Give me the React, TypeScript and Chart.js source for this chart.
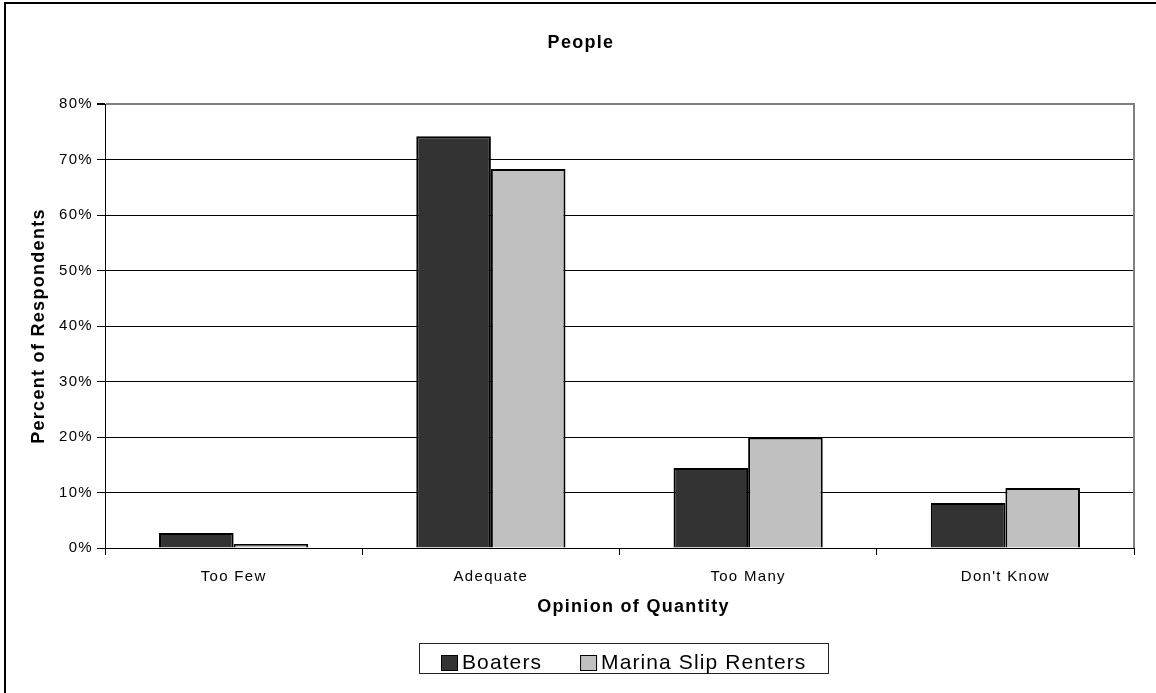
import React, { useEffect, useRef } from "react";
import { Chart, registerables } from "chart.js";

Chart.register(...registerables);

const categories = ["Too Few", "Adequate", "Too Many", "Don't Know"];
const boaters = [2.7, 74.2, 14.4, 8.1];
const slipRenters = [0.7, 68.3, 19.9, 10.8];
const seriesLabels = ["Boaters", "Marina Slip Renters"];
const yTicks = [0, 10, 20, 30, 40, 50, 60, 70, 80];
const xAxisTitle = "Opinion of Quantity";

const FONT = '"Liberation Sans", Arial, sans-serif';

const spacingPlugin = {
  id: "spacing",
  beforeUpdate(chart: any) {
    chart.ctx.letterSpacing = "1.3px";
  },
  beforeLayout(chart: any) {
    chart.ctx.letterSpacing = "1.3px";
  },
  beforeDraw(chart: any) {
    chart.ctx.letterSpacing = "1.3px";
  },
};

const framePlugin = {
  id: "frame",
  beforeDraw(chart: any) {
    const ctx = chart.ctx;
    ctx.save();
    ctx.fillStyle = "#fff";
    ctx.fillRect(0, 0, chart.width, chart.height);
    ctx.fillStyle = "#000";
    ctx.fillRect(4, 2, chart.width - 4, 2);
    ctx.fillRect(4, 2, 2, chart.height - 2);
    ctx.restore();
  },
  afterDraw(chart: any) {
    const ctx = chart.ctx;
    const a = chart.chartArea;
    ctx.save();
    ctx.strokeStyle = "#808080";
    ctx.lineWidth = 2;
    ctx.beginPath();
    ctx.moveTo(a.right, a.top - 1);
    ctx.lineTo(a.right, a.bottom);
    ctx.stroke();
    ctx.restore();

    const xs = chart.scales.x;

    // x axis title (Excel centres it slightly right of the plot centre)
    ctx.save();
    ctx.letterSpacing = "1.3px";
    ctx.font = `bold 18px ${FONT}`;
    ctx.fillStyle = "#000";
    ctx.textAlign = "center";
    ctx.textBaseline = "middle";
    ctx.fillText(xAxisTitle, (a.left + a.right) / 2 + 14, xs.bottom - 36);
    ctx.restore();

    // legend
    ctx.save();
    ctx.letterSpacing = "1.1px";
    ctx.font = `21px ${FONT}`;
    const items = chart.data.datasets.map((d: any) => ({
      label: d.label,
      color: d.backgroundColor,
    }));
    const sw = 17;
    const gapT = 4;
    const gapItems = 38;
    const pad = 22;
    const widths = items.map((i: any) => ctx.measureText(i.label).width);
    let total = pad * 2 + gapItems * (items.length - 1);
    widths.forEach((w: number) => (total += sw + gapT + w));
    const cx = (a.left + a.right) / 2 + 4;
    const left = Math.round(cx - total / 2);
    const top = Math.round(xs.bottom);
    const h = 30;
    ctx.strokeStyle = "#222";
    ctx.lineWidth = 1;
    ctx.strokeRect(left + 0.5, top + 0.5, Math.round(total), h);
    let x = left + pad;
    const my = top + 20;
    items.forEach((it: any, i: number) => {
      ctx.fillStyle = it.color;
      ctx.fillRect(x, my - 8, sw, 16);
      ctx.strokeStyle = "#000";
      ctx.strokeRect(x + 0.5, my - 7.5, sw - 1, 15);
      ctx.fillStyle = "#000";
      ctx.textBaseline = "middle";
      ctx.textAlign = "left";
      ctx.fillText(it.label, x + sw + gapT, my);
      x += sw + gapT + widths[i] + gapItems;
    });
    ctx.restore();
  },
};

export default function App() {
  const ref = useRef<HTMLCanvasElement | null>(null);

  useEffect(() => {
    if (!ref.current) return;
    const chart = new Chart(ref.current, {
      type: "bar",
      data: {
        labels: categories,
        datasets: [
          {
            label: seriesLabels[0],
            data: boaters,
            backgroundColor: "#333333",
            borderColor: "#000",
            borderWidth: 2,
            categoryPercentage: 0.58,
            barPercentage: 1.0,
          },
          {
            label: seriesLabels[1],
            data: slipRenters,
            backgroundColor: "#C0C0C0",
            borderColor: "#000",
            borderWidth: 2,
            categoryPercentage: 0.58,
            barPercentage: 1.0,
          },
        ],
      },
      options: {
        responsive: false,
        animation: false,
        devicePixelRatio: 1,
        layout: { padding: { left: 28, right: 22, top: 0, bottom: 50 } },
        plugins: {
          legend: { display: false },
          tooltip: { enabled: false },
          title: {
            display: true,
            text: "People",
            color: "#000",
            font: { family: FONT, size: 18, weight: "bold", lineHeight: 1.2 },
            padding: { top: 32, bottom: 50.4 },
          },
        },
        scales: {
          x: {
            grid: {
              drawOnChartArea: false,
              drawTicks: true,
              tickLength: 7,
              tickColor: "#000",
              offset: true,
            },
            border: { color: "#000", width: 1 },
            ticks: {
              color: "#000",
              font: { family: FONT, size: 15, lineHeight: 1.2 },
              padding: 13,
              maxRotation: 0,
              autoSkip: false,
            },
            title: { display: false },
            afterFit: (s: any) => {
              s.height = 95;
            },
          },
          y: {
            min: 0,
            max: 80,
            afterBuildTicks: (s: any) => {
              s.ticks = yTicks.map((v) => ({ value: v }));
            },
            grid: {
              color: (c: any) => (c.tick && c.tick.value === 80 ? "#808080" : "#000"),
              lineWidth: (c: any) => (c.tick && c.tick.value === 80 ? 2 : 1),
              drawTicks: true,
              tickLength: 8,
              tickColor: "#000",
            },
            border: { color: "#000", width: 1 },
            ticks: {
              color: "#000",
              font: { family: FONT, size: 15, lineHeight: 1.2 },
              padding: 4,
              callback: (v: any) => `${v}%`,
            },
            title: {
              display: true,
              text: "Percent of Respondents",
              color: "#000",
              font: { family: FONT, size: 18, weight: "bold", lineHeight: 1.2 },
              padding: { top: 0, bottom: 0 },
            },
            afterFit: (s: any) => {
              s.width = 77;
            },
          },
        },
      },
      plugins: [spacingPlugin, framePlugin],
    });
    return () => chart.destroy();
  }, []);

  return (
    <div style={{ position: "fixed", left: 0, top: 0, width: 1156, height: 693, background: "#fff" }}>
      <canvas ref={ref} width={1156} height={693} style={{ display: "block" }} />
    </div>
  );
}
